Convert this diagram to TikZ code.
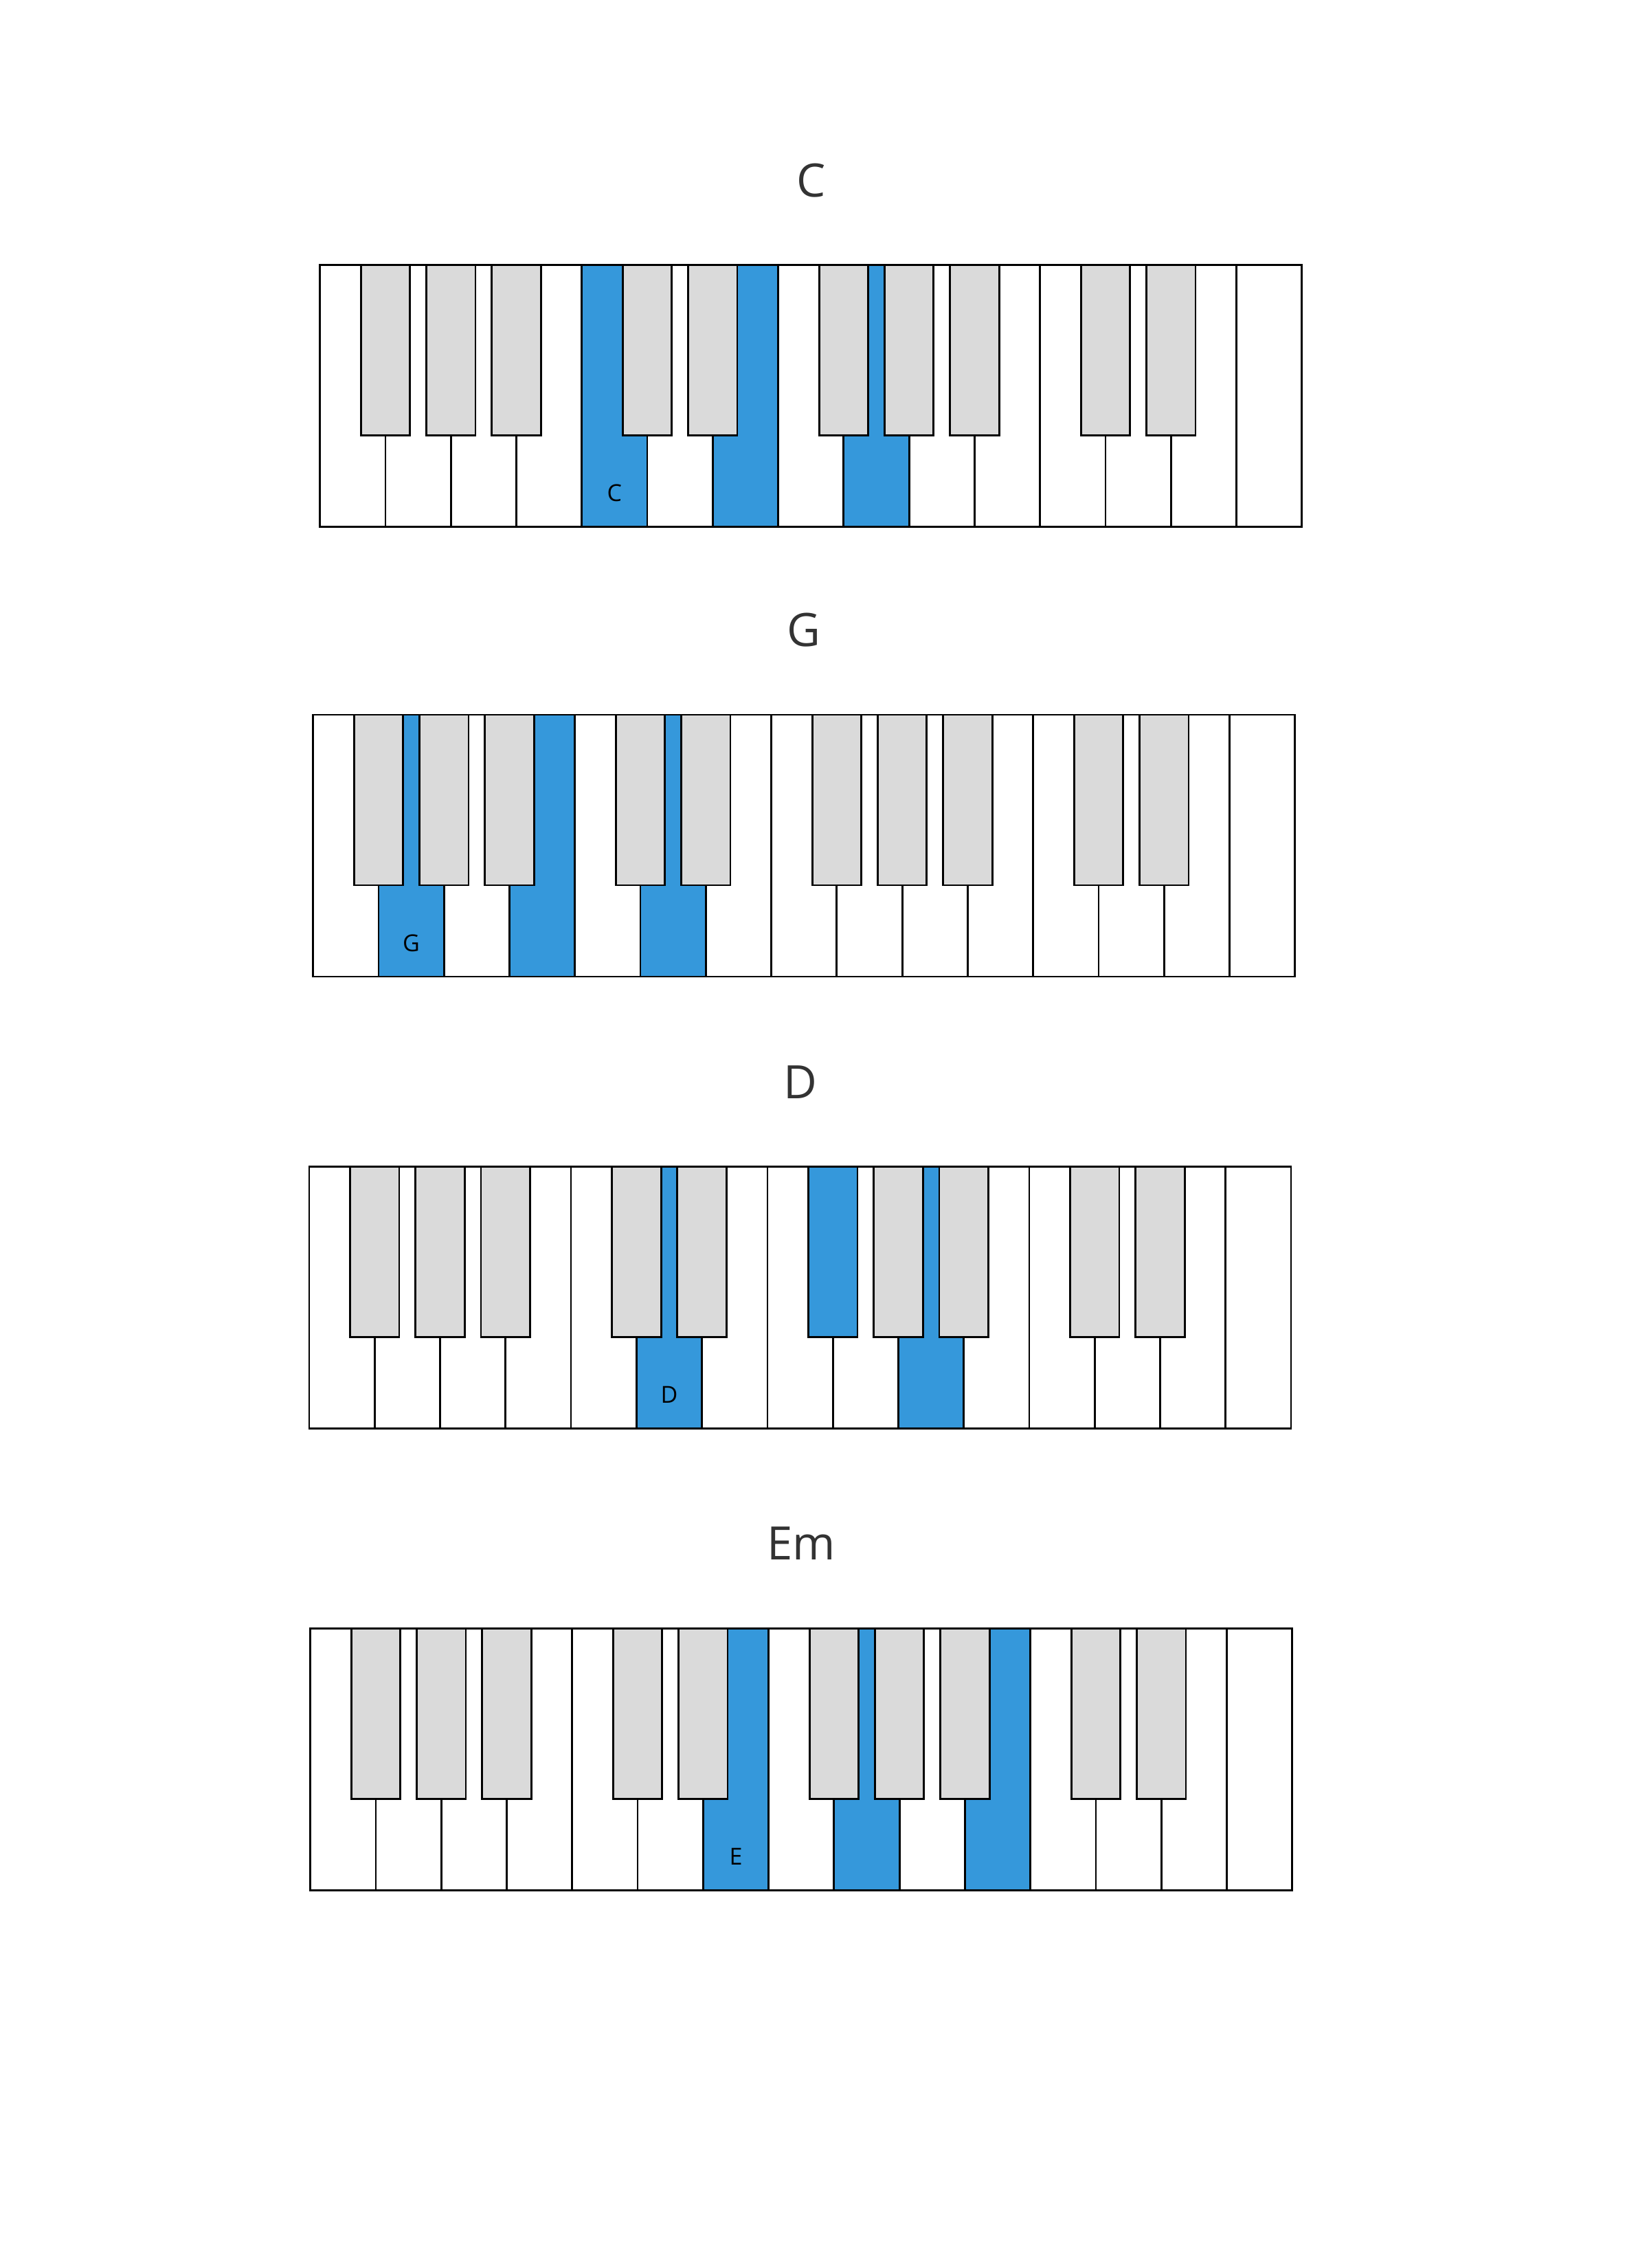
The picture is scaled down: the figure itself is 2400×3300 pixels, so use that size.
\documentclass[tikz,border=0pt]{standalone}
\usepackage{fontspec}
\newfontfamily\chordfont{Open Sans}
\definecolor{chordblue}{HTML}{3598DB}
\definecolor{keygray}{HTML}{DADADA}
\definecolor{titlegray}{HTML}{333333}
\def\W{95.27}
\def\H{381}
\def\BW{71.5}
\def\BH{248}
\newcommand\kbd[8]{%
  \begin{scope}[shift={(#2,#3)}]
    \foreach \i in {0,...,14} {\draw[keyline, fill=white] (\i*\W,0) rectangle ++(\W,\H);}
    \foreach \i in {#5} {\draw[keyline, fill=chordblue] (\i*\W,0) rectangle ++(\W,\H);}
    \foreach \i in {0,1,2,4,5,7,8,9,11,12} {\draw[keyline, fill=keygray] ({(\i+1)*\W-\BW/2},0) rectangle ++(\BW,\BH);}
    \def\tmp{#6}\ifx\tmp\empty\else
      \foreach \i in {#6} {\draw[keyline, fill=chordblue] ({(\i+1)*\W-\BW/2},0) rectangle ++(\BW,\BH);}
    \fi
    \node[chordtitle] (#1-title) at (7.5*\W,-123.6) {#4};
    \node[keylabel] (#1-label) at ({(#7+0.5)*\W},\H-49) {#8};
  \end{scope}}
\tikzset{
  keyline/.style={draw=black, line width=2.8pt},
  chordtitle/.style={inner sep=0pt, text=titlegray, font=\chordfont\fontsize{67}{80}\selectfont},
  keylabel/.style={inner sep=0pt, text=black, font=\chordfont\fontsize{34}{40}\selectfont}
}
\begin{document}
\begin{tikzpicture}[x=1pt,y=-1pt]
  \fill[white] (0,0) rectangle (2400,3300);
  \useasboundingbox (0,0) rectangle (2400,3300);
  \kbd{c}{465.7}{385.7}{C}{4,6,8}{}{4}{C}
  \kbd{g}{455.7}{1040}{G}{1,3,5}{}{1}{G}
  \kbd{d}{450}{1697.7}{D}{5,9}{7}{5}{D}
  \kbd{em}{451.7}{2369.3}{Em}{6,8,10}{}{6}{E}
\end{tikzpicture}
\end{document}
